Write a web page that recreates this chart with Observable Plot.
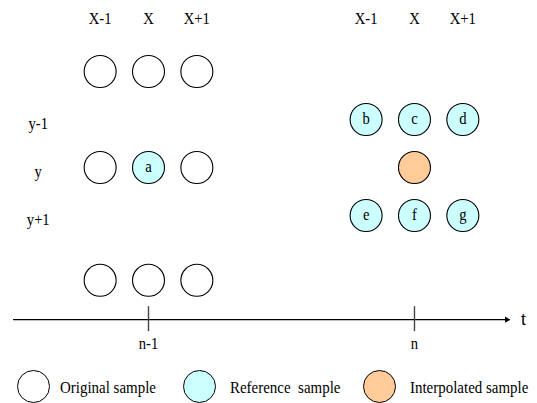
<!DOCTYPE html>
<html><head><meta charset="utf-8">
<script src="https://cdn.jsdelivr.net/npm/d3@7"></script>
<script src="https://cdn.jsdelivr.net/npm/@observablehq/plot@0.6"></script>
<style>
body{margin:0;background:#fff;width:537px;height:403px;overflow:hidden;font-family:"Liberation Serif","Times New Roman",serif}
#chart svg{display:block}
#legend{position:relative;height:43px;width:537px}
.sw{position:absolute;top:9.5px;width:33px;height:33px;border:1.2px solid #000;border-radius:50%;box-sizing:border-box}
.lb{position:absolute;top:18px;font-size:17px;line-height:20px;color:#000;white-space:pre;transform:scaleX(0.88);transform-origin:0 0}
</style>
</head><body>
<div id="chart"></div>
<div id="legend"></div>
<script>
// ---- data ----
const columnLabels = ["X-1", "X", "X+1"];
const columnOffsets = [-1, 0, 1];
const timeLabels = ["n-1", "n"];
const timePositions = [0, 5.5];           // in column units
const rowLabels = ["y-1", "y", "y+1"];
const rowPositions = [-1, 0, 1];
const originalRows = [-2, 0, 2.35];       // rows of the n-1 frame samples
const leftRefLetter = "a";                // reference sample at (X, y) in frame n-1
const rightRefRows = [-1, 1];
const rightRefLetters = [["b", "c", "d"], ["e", "f", "g"]];
const kinds = ["Original sample", "Reference  sample", "Interpolated sample"];
const kindColors = ["#ffffff", "#ccffff", "#ffcc99"];

// ---- layout constants ----
const W = 537, H = 360;
const unitX = 48.36, originX = 148;
const unitY = 48, originY = 167;
const headerRow = -3.106, axisRow = 3.17, tickTop = 2.9, tickBottom = 3.42, timeLabelRow = 3.67;
const axisStart = -2.79, axisEnd = 7.41, tLabelX = 7.75, rowLabelX = -2.28;

// ---- build samples ----
const samples = [];
originalRows.forEach(r => columnOffsets.forEach(c => {
  const isRef = r === 0 && c === 0;
  samples.push({x: timePositions[0] + c, y: r, kind: isRef ? 1 : 0, letter: isRef ? leftRefLetter : ""});
}));
rightRefRows.forEach((r, i) => columnOffsets.forEach((c, j) => {
  samples.push({x: timePositions[1] + c, y: r, kind: 1, letter: rightRefLetters[i][j]});
}));
samples.push({x: timePositions[1], y: 0, kind: 2, letter: ""});

const headers = [];
timePositions.forEach(t => columnOffsets.forEach((c, j) => headers.push({x: t + c, label: columnLabels[j]})));
const rowsData = rowLabels.map((l, i) => ({label: l, y: rowPositions[i]}));
const timesData = timeLabels.map((l, i) => ({label: l, x: timePositions[i]}));

const serif = "Liberation Serif, Times New Roman, serif";
const plot = Plot.plot({
  width: W, height: H,
  marginTop: 0, marginBottom: 0, marginLeft: 0, marginRight: 0,
  x: {type: "linear", domain: [-originX / unitX, (W - originX) / unitX], range: [0, W], axis: null},
  y: {type: "linear", domain: [-originY / unitY, (H - originY) / unitY], range: [0, H], axis: null},
  style: {fontFamily: serif, background: "#fff"},
  marks: [
    Plot.text(headers, {x: "x", y: () => headerRow, text: "label", fontSize: 17, fill: "black"}),
    Plot.text(rowsData, {x: () => rowLabelX, y: "y", text: "label", fontSize: 17, dy: 4.5, fill: "black"}),
    Plot.dot(samples, {x: "x", y: "y", r: 16, fill: d => kindColors[d.kind], stroke: "black", strokeWidth: 1.1}),
    Plot.text(samples, {x: "x", y: "y", text: "letter", fontSize: 17, fill: "black", dy: -1}),
    Plot.ruleY([axisRow], {x1: axisStart, x2: axisEnd, stroke: "black", strokeWidth: 1.2}),
    Plot.dot([axisEnd], {x: d => d, y: () => axisRow, symbol: "triangle2", rotate: 90, r: 3, fill: "black"}),
    Plot.ruleX(timesData, {x: "x", y1: () => tickTop, y2: () => tickBottom, stroke: "#444", strokeWidth: 1.4}),
    Plot.text(timesData, {x: "x", y: () => timeLabelRow, text: "label", fontSize: 17, fill: "black"}),
    Plot.text(["t"], {x: () => tLabelX, y: () => axisRow, text: d => d, fontSize: 17, fontFamily: "Liberation Sans, Arial, sans-serif", fill: "black"})
  ]
});
document.getElementById("chart").appendChild(plot);

// narrow the serif labels slightly, as in the reference
plot.querySelectorAll("text").forEach(t => {
  const g = t.closest("[font-family]");
  if (g && /Sans/.test(g.getAttribute("font-family"))) return;
  const len = t.getComputedTextLength();
  if (len > 0) {
    t.setAttribute("textLength", (len * 0.86).toFixed(2));
    t.setAttribute("lengthAdjust", "spacingAndGlyphs");
  }
});

// ---- legend ----
const swatchLeft = [16.5, 182.5, 362.5];
const labelLeft = [60, 230, 410];
const legend = document.getElementById("legend");
kinds.forEach((k, i) => {
  const s = document.createElement("div");
  s.className = "sw"; s.style.left = swatchLeft[i] + "px"; s.style.background = kindColors[i];
  legend.appendChild(s);
  const l = document.createElement("div");
  l.className = "lb"; l.style.left = labelLeft[i] + "px";
  l.textContent = k;
  legend.appendChild(l);
});
</script>
</body></html>
